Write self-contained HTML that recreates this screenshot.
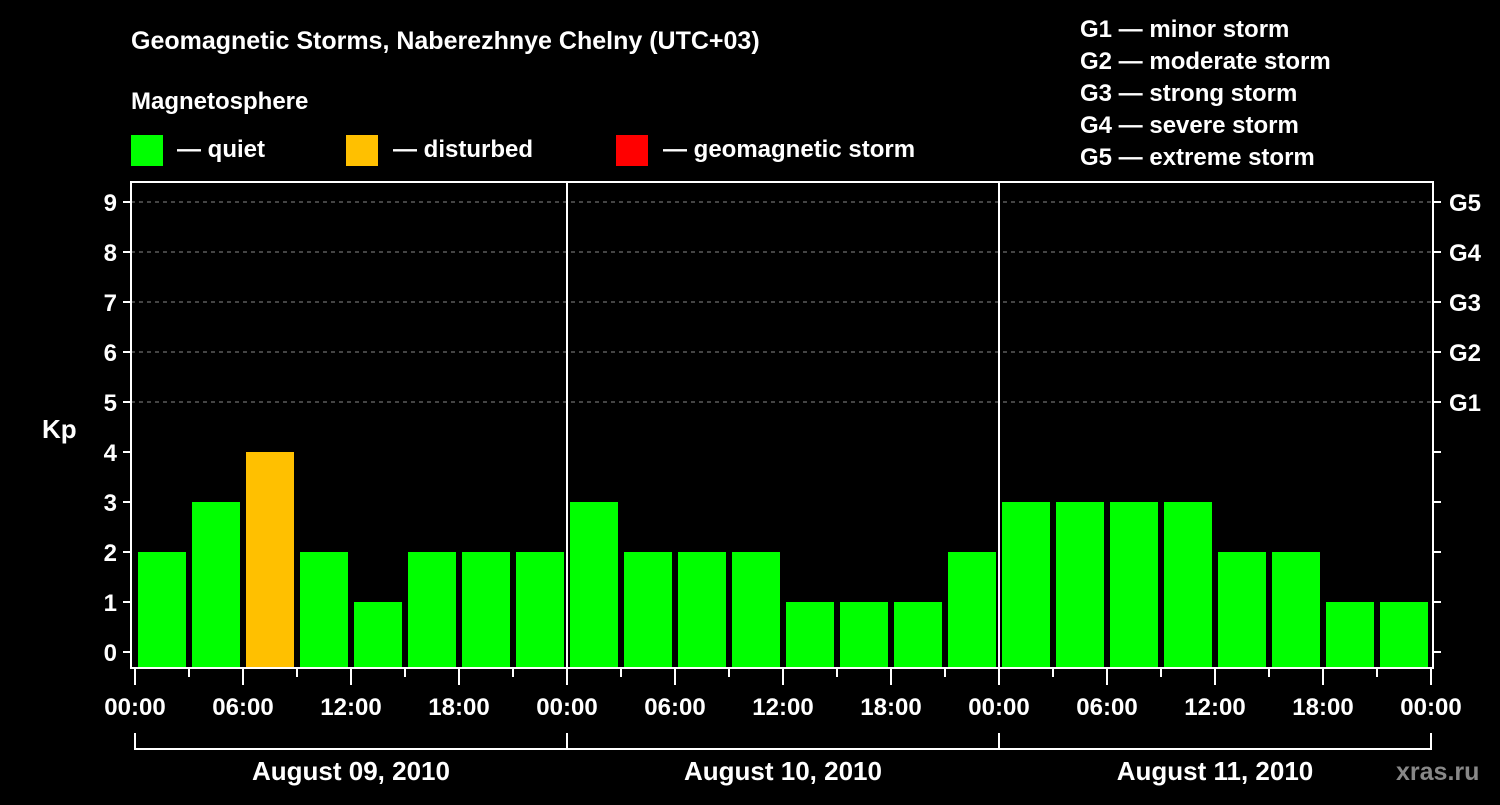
<!DOCTYPE html>
<html><head><meta charset="utf-8"><style>
body{margin:0;background:#000;}
svg text{font-family:"Liberation Sans",sans-serif;font-weight:bold;fill:#fff;}
</style></head><body>
<svg id="chart" width="1500" height="800" xmlns="http://www.w3.org/2000/svg">
<rect width="1500" height="800" fill="#000"/>
<text x="131" y="49" font-size="25">Geomagnetic Storms, Naberezhnye Chelny (UTC+03)</text>
<text x="131" y="109" font-size="24">Magnetosphere</text>
<rect x="131" y="135" width="32" height="31" fill="#00ff00"/>
<text x="177" y="157" font-size="24">— quiet</text>
<rect x="346" y="135" width="32" height="31" fill="#ffc000"/>
<text x="393" y="157" font-size="24">— disturbed</text>
<rect x="616" y="135" width="32" height="31" fill="#ff0000"/>
<text x="663" y="157" font-size="24">— geomagnetic storm</text>
<g font-size="24">
<text x="1080" y="37">G1 — minor storm</text>
<text x="1080" y="69">G2 — moderate storm</text>
<text x="1080" y="101">G3 — strong storm</text>
<text x="1080" y="133">G4 — severe storm</text>
<text x="1080" y="165">G5 — extreme storm</text>
</g>
<text x="42" y="438" font-size="26">Kp</text>
<g id="grid"></g><g id="bars"></g><g id="axes"></g>
<text x="1396" y="780" font-size="25" style="fill:#888">xras.ru</text>
</svg>
<script>
const kpValues=[2,3,4,2,1,2,2,2,3,2,2,2,1,1,1,2,3,3,3,3,2,2,1,1];
const dayLabels=["August 09, 2010","August 10, 2010","August 11, 2010"];
const hourLabels=["00:00","06:00","12:00","18:00"];
const gLabels=["G1","G2","G3","G4","G5"];
const NS="http://www.w3.org/2000/svg";
const X0=135,SLOT=54,Y_ZERO=652,UNIT=50,P_TOP=182,P_BOTTOM=667,P_LEFT=131,P_RIGHT=1433;
const xs=i=>X0+i*SLOT;
const ys=v=>Y_ZERO-v*UNIT;
function mk(tag,attrs,parent){const e=document.createElementNS(NS,tag);for(const k in attrs)e.setAttribute(k,attrs[k]);parent.appendChild(e);return e;}
const gridG=document.getElementById('grid'),barsG=document.getElementById('bars'),axesG=document.getElementById('axes');
for(let v=5;v<=9;v++){const l=mk('line',{x1:P_LEFT,x2:P_RIGHT,y1:ys(v),y2:ys(v),stroke:'#888','stroke-dasharray':'4,4','stroke-width':1},gridG);

}
kpValues.forEach((v,i)=>{const c=v>=5?'#ff0000':(v>=4?'#ffc000':'#00ff00');
const r=mk('rect',{x:xs(i)+3,y:ys(v),width:48,height:P_BOTTOM-ys(v),fill:c},barsG);

});
const f=mk('rect',{x:P_LEFT,y:P_TOP,width:P_RIGHT-P_LEFT,height:P_BOTTOM+1-P_TOP,fill:'none',stroke:'#fff','stroke-width':2},axesG);


for(let d=1;d<dayLabels.length;d++){const l=mk('line',{x1:xs(d*8),x2:xs(d*8),y1:P_TOP,y2:P_BOTTOM+1,stroke:'#fff','stroke-width':2},axesG);

}
for(let v=0;v<=9;v++){
mk('line',{x1:P_LEFT-8,x2:P_LEFT,y1:ys(v),y2:ys(v),stroke:'#fff','stroke-width':2},axesG);
mk('line',{x1:P_RIGHT,x2:P_RIGHT+8,y1:ys(v),y2:ys(v),stroke:'#fff','stroke-width':2},axesG);
const t=mk('text',{x:P_LEFT-14,y:ys(v)+9,'font-size':24,'text-anchor':'end'},axesG);t.textContent=v;

}
gLabels.forEach((g,i)=>{const t=mk('text',{x:P_RIGHT+16,y:ys(5+i)+9,'font-size':24},axesG);t.textContent=g;

});
for(let i=0;i<=kpValues.length;i++){const major=i%2===0;
mk('line',{x1:xs(i),x2:xs(i),y1:P_BOTTOM+1,y2:major?P_BOTTOM+18:P_BOTTOM+10,stroke:'#fff','stroke-width':2},axesG);
if(major){const t=mk('text',{x:xs(i),y:715,'font-size':24,'text-anchor':'middle'},axesG);t.textContent=hourLabels[(i/2)%4];

}}
dayLabels.forEach((d,k)=>{const a=xs(k*8),b=xs(k*8+8);
mk('path',{d:`M${a} 733V749H${b}V733`,stroke:'#fff','stroke-width':2,fill:'none'},axesG);
const t=mk('text',{x:(a+b)/2,y:780,'font-size':26,'text-anchor':'middle'},axesG);t.textContent=d;

});
</script>
</body></html>
